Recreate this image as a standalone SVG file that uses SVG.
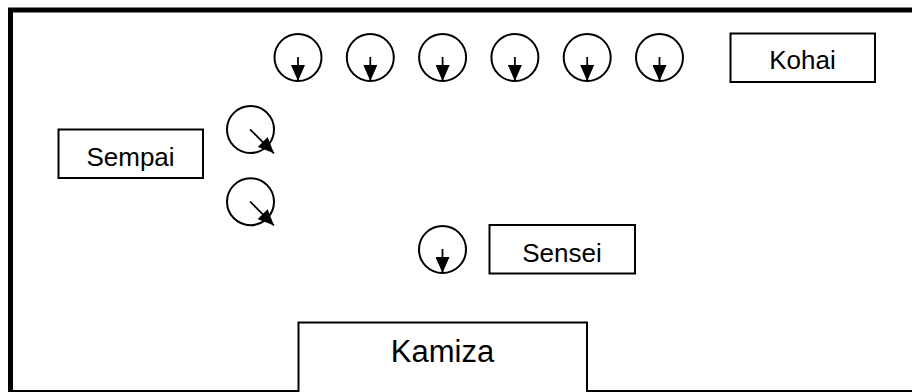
<svg xmlns="http://www.w3.org/2000/svg" width="912" height="392" viewBox="0 0 912 392">
  <style>
    .frame { fill: #fff; stroke: #000; stroke-width: 5; }
    .box { fill: #fff; stroke: #000; stroke-width: 2; }
    .person { fill: none; stroke: #000; stroke-width: 2; }
    .dir { stroke: #000; stroke-width: 1.75; fill: none; marker-end: url(#ah); }
    .lbl { font-family: "Liberation Sans", Arial, sans-serif; font-size: 26px; fill: #000; text-anchor: middle; }
    .big { font-size: 31px; }
  </style>
  <defs>
    <marker id="ah" viewBox="0 0 16 14" refX="16" refY="7" markerWidth="16" markerHeight="14" markerUnits="userSpaceOnUse" orient="auto">
      <path d="M0,0 L16,7 L0,14 Z" fill="#000"/>
    </marker>
  </defs>
  <rect x="0" y="0" width="912" height="392" fill="#fff"/>
  <rect id="room" class="frame" x="10.5" y="10" width="910" height="382.5"/>

  <g id="kamiza">
    <rect class="box" x="298.5" y="322.5" width="288.5" height="80"/>
    <text class="lbl big" x="442.5" y="362">Kamiza</text>
  </g>
  <g id="kohai">
    <rect class="box" x="730.5" y="33.5" width="144.5" height="48.5"/>
    <text class="lbl" x="802.5" y="69">Kohai</text>
  </g>
  <g id="sempai">
    <rect class="box" x="58.5" y="129.5" width="144.5" height="48.5"/>
    <text class="lbl" x="130.5" y="165.5">Sempai</text>
  </g>
  <g id="sensei">
    <rect class="box" x="489.5" y="225" width="145.5" height="48.5"/>
    <text class="lbl" x="562" y="261.5">Sensei</text>
  </g>

  <g id="kohai-1"><circle class="person" cx="298" cy="57.5" r="23.5"/></g>
  <g id="kohai-2"><circle class="person" cx="370.3" cy="57.5" r="23.5"/></g>
  <g id="kohai-3"><circle class="person" cx="442.6" cy="57.5" r="23.5"/></g>
  <g id="kohai-4"><circle class="person" cx="514.9" cy="57.5" r="23.5"/></g>
  <g id="kohai-5"><circle class="person" cx="587.2" cy="57.5" r="23.5"/></g>
  <g id="kohai-6"><circle class="person" cx="659.5" cy="57.5" r="23.5"/></g>
  <g id="sempai-1"><circle class="person" cx="250.5" cy="129.5" r="23.5"/></g>
  <g id="sempai-2"><circle class="person" cx="250.5" cy="201.7" r="23.5"/></g>
  <g id="sensei-pos"><circle class="person" cx="442.5" cy="249.5" r="23.5"/></g>

  <g id="connectors">
    <line class="dir" x1="298" y1="57" x2="298" y2="81"/>
    <line class="dir" x1="370.3" y1="57" x2="370.3" y2="81"/>
    <line class="dir" x1="442.6" y1="57" x2="442.6" y2="81"/>
    <line class="dir" x1="514.9" y1="57" x2="514.9" y2="81"/>
    <line class="dir" x1="587.2" y1="57" x2="587.2" y2="81"/>
    <line class="dir" x1="659.5" y1="57" x2="659.5" y2="81"/>
    <line class="dir" x1="250" y1="129.3" x2="274" y2="153.3"/>
    <line class="dir" x1="250" y1="201.5" x2="274" y2="225.5"/>
    <line class="dir" x1="442.5" y1="249" x2="442.5" y2="273"/>
  </g>
</svg>
